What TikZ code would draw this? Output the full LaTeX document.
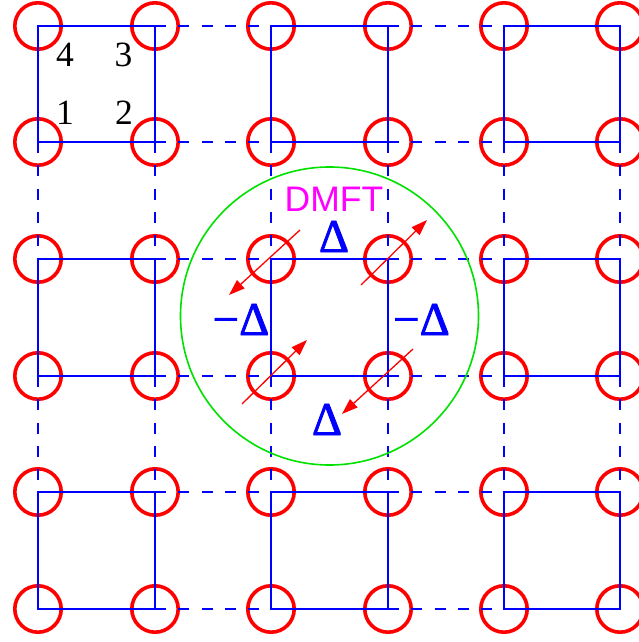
\documentclass[tikz,border=0pt]{standalone}
\usepackage{fontspec}
\setmainfont{Liberation Serif}
\newfontfamily\labelsans{Liberation Sans}
\newfontfamily\gapfont[FakeBold=1.6]{Liberation Serif}
\usetikzlibrary{arrows.meta}
\definecolor{siteRed}{RGB}{255,0,0}
\definecolor{bondBlue}{RGB}{0,0,255}
\definecolor{ringGreen}{RGB}{0,225,0}
\definecolor{txtMagenta}{RGB}{255,0,255}
\tikzset{
  site/.style={circle, draw=siteRed, line width=3.6bp, minimum size=46.4bp, inner sep=0pt},
  bond/.style={color=bondBlue, line width=2bp},
  interbond/.style={color=bondBlue, line width=2bp, dash pattern=on 11bp off 12.3bp},
  cluster/.style={circle, draw=ringGreen, line width=1.6bp, minimum size=298bp, inner sep=0pt},
  spin/.style={color=siteRed, line width=1.3bp, -{Triangle[length=16bp,width=11bp]}},
  idx/.style={anchor=base, inner sep=0pt, font=\fontsize{35.5bp}{40bp}\selectfont},
  gap/.style={anchor=base, inner sep=0pt, text height=31bp, text depth=0pt, text=bondBlue, font=\gapfont\fontsize{47bp}{52bp}\selectfont},
  dmftlabel/.style={anchor=base, inner sep=0pt, text height=26bp, text depth=0pt, text=txtMagenta, font=\labelsans\fontsize{35.5bp}{40bp}\selectfont}
}
\begin{document}
\begin{tikzpicture}[x=1bp,y=-1bp]
\useasboundingbox (0,0) rectangle (639,642);
\clip (0,0) rectangle (639,642);
% sites
\foreach \xx [count=\ci from 0] in {38,155,271,388,504,620}{
  \foreach \yy [count=\rj from 0] in {26,142,259,376,492,609}{
    \node[site] (s-\ci-\rj) at (\xx,\yy) {};
  }
}
% solid plaquettes
\foreach \pa/\pb in {0/1,2/3,4/5}{
  \foreach \qa/\qb in {0/1,2/3,4/5}{
    \draw[bond] (s-\pa-\qa.center) -- (s-\pb-\qa.center) -- (s-\pb-\qb.center) -- (s-\pa-\qb.center) -- cycle;
  }
}
% dashed inter-plaquette bonds
\foreach \kk in {0,1,2,3,4,5}{
  \draw[interbond] (s-1-\kk.center) -- (s-2-\kk.center);
  \draw[interbond] (s-3-\kk.center) -- (s-4-\kk.center);
  \draw[interbond] (s-\kk-1.center) -- (s-\kk-2.center);
  \draw[interbond] (s-\kk-3.center) -- (s-\kk-4.center);
}
% DMFT cluster circle
\node[cluster] (dmft) at (329.5,316) {};
\node[dmftlabel] (dmftlab) at (334,211) {DMFT};
% site indices
\node[idx] (n4) at (65,66.7) {4};
\node[idx] (n3) at (123.5,66.7) {3};
\node[idx] (n1) at (65,125) {1};
\node[idx] (n2) at (124,125) {2};
% gap labels
\node[gap] (dtop) at (334,252) {Δ};
\node[gap] (dleft) at (241,335) {−Δ};
\node[gap] (dright) at (421.5,335) {−Δ};
\node[gap] (dbot) at (327,435) {Δ};
% spins
\coordinate (a1s) at (300,230); \coordinate (a1e) at (229,295);
\coordinate (a2s) at (361,285); \coordinate (a2e) at (427,220);
\coordinate (a3s) at (242,404); \coordinate (a3e) at (307,340);
\coordinate (a4s) at (413,349); \coordinate (a4e) at (342,414);
\draw[spin] (a1s) -- (a1e);
\draw[spin] (a2s) -- (a2e);
\draw[spin] (a3s) -- (a3e);
\draw[spin] (a4s) -- (a4e);
\end{tikzpicture}
\end{document}
